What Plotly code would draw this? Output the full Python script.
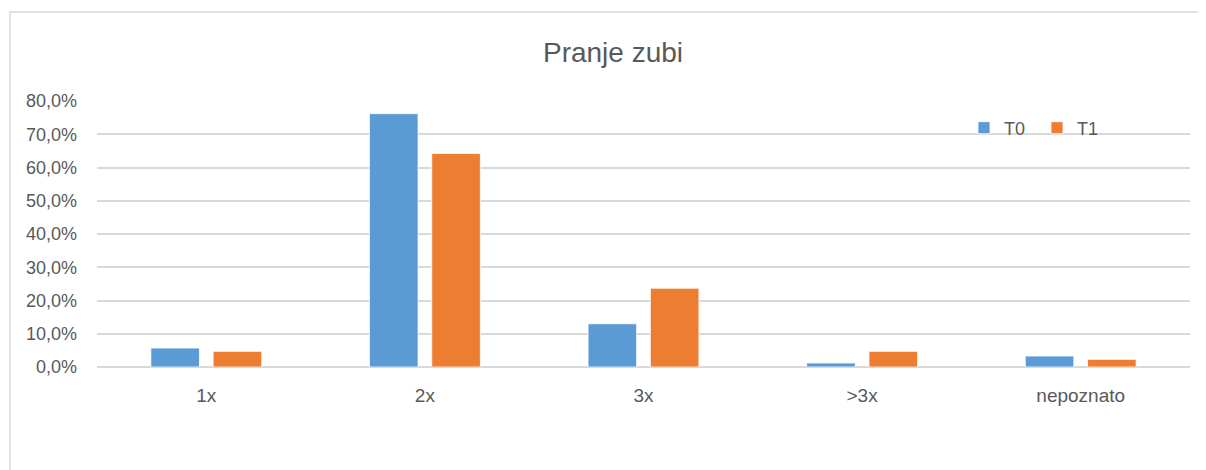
import plotly.graph_objects as go

categories = ["1x", "2x", "3x", ">3x", "nepoznato"]
t0_values = [5.7, 76.2, 13.0, 1.2, 3.3]
t1_values = [4.7, 64.2, 23.7, 4.7, 2.3]
series_names = ["T0", "T1"]

# the page body adds an 8px margin, so the figure is 8px smaller than the window
W, H = 1198, 462
L, R, T, B = 89, 16, 93, 103
pw, ph = W - L - R, H - T - B

grey = "#595959"
grid = "#D9D9D9"

fig = go.Figure()
fig.add_trace(go.Bar(
    x=categories, y=t0_values, name=series_names[0],
    marker=dict(color="#5B9BD5", line=dict(color="#FFFFFF", width=0.8)),
))
fig.add_trace(go.Bar(
    x=categories, y=t1_values, name=series_names[1],
    marker=dict(color="#ED7D31", line=dict(color="#FFFFFF", width=0.8)),
))

# outer chart frame (only left and top edges are visible in the crop)
fig.add_shape(
    type="rect", xref="paper", yref="paper", layer="below",
    x0=(2 - L) / pw, x1=(W + 30 - L) / pw,
    y0=-1.0, y1=(H - B - 4) / ph,
    line=dict(color=grid, width=1.5), fillcolor="rgba(0,0,0,0)",
)

fig.update_layout(
    width=W, height=H,
    margin=dict(l=L, r=R, t=T, b=B),
    paper_bgcolor="white", plot_bgcolor="white",
    separators=",.",
    font=dict(family="Liberation Sans, Arial, sans-serif", color=grey, size=16),
    title=dict(
        text="Pranje zubi", x=605 / W, xanchor="center", xref="container",
        y=1 - 44 / H, yanchor="middle",
        font=dict(size=28, color=grey),
    ),
    barmode="group", bargap=0.43, bargroupgap=0.22,
    showlegend=True,
    legend=dict(
        orientation="h", x=(956 - L) / pw, xanchor="left",
        y=(H - B - 120) / ph, yanchor="middle",
        font=dict(size=18, color=grey), bgcolor="rgba(0,0,0,0)",
        entrywidth=28, traceorder="normal",
    ),
    xaxis=dict(
        showgrid=False, showline=False, zeroline=False,
        tickfont=dict(size=19, color=grey), ticks="",
        ticklabelstandoff=15,
    ),
    yaxis=dict(
        range=[0, 80], dtick=10, tickformat=".1f", ticksuffix="%",
        showgrid=True, gridcolor=grid, gridwidth=1.5,
        zeroline=True, zerolinecolor=grid, zerolinewidth=1.5,
        showline=False, ticks="", ticklabelstandoff=19,
        tickfont=dict(size=18, color=grey),
    ),
)

fig.write_html("out.html")
